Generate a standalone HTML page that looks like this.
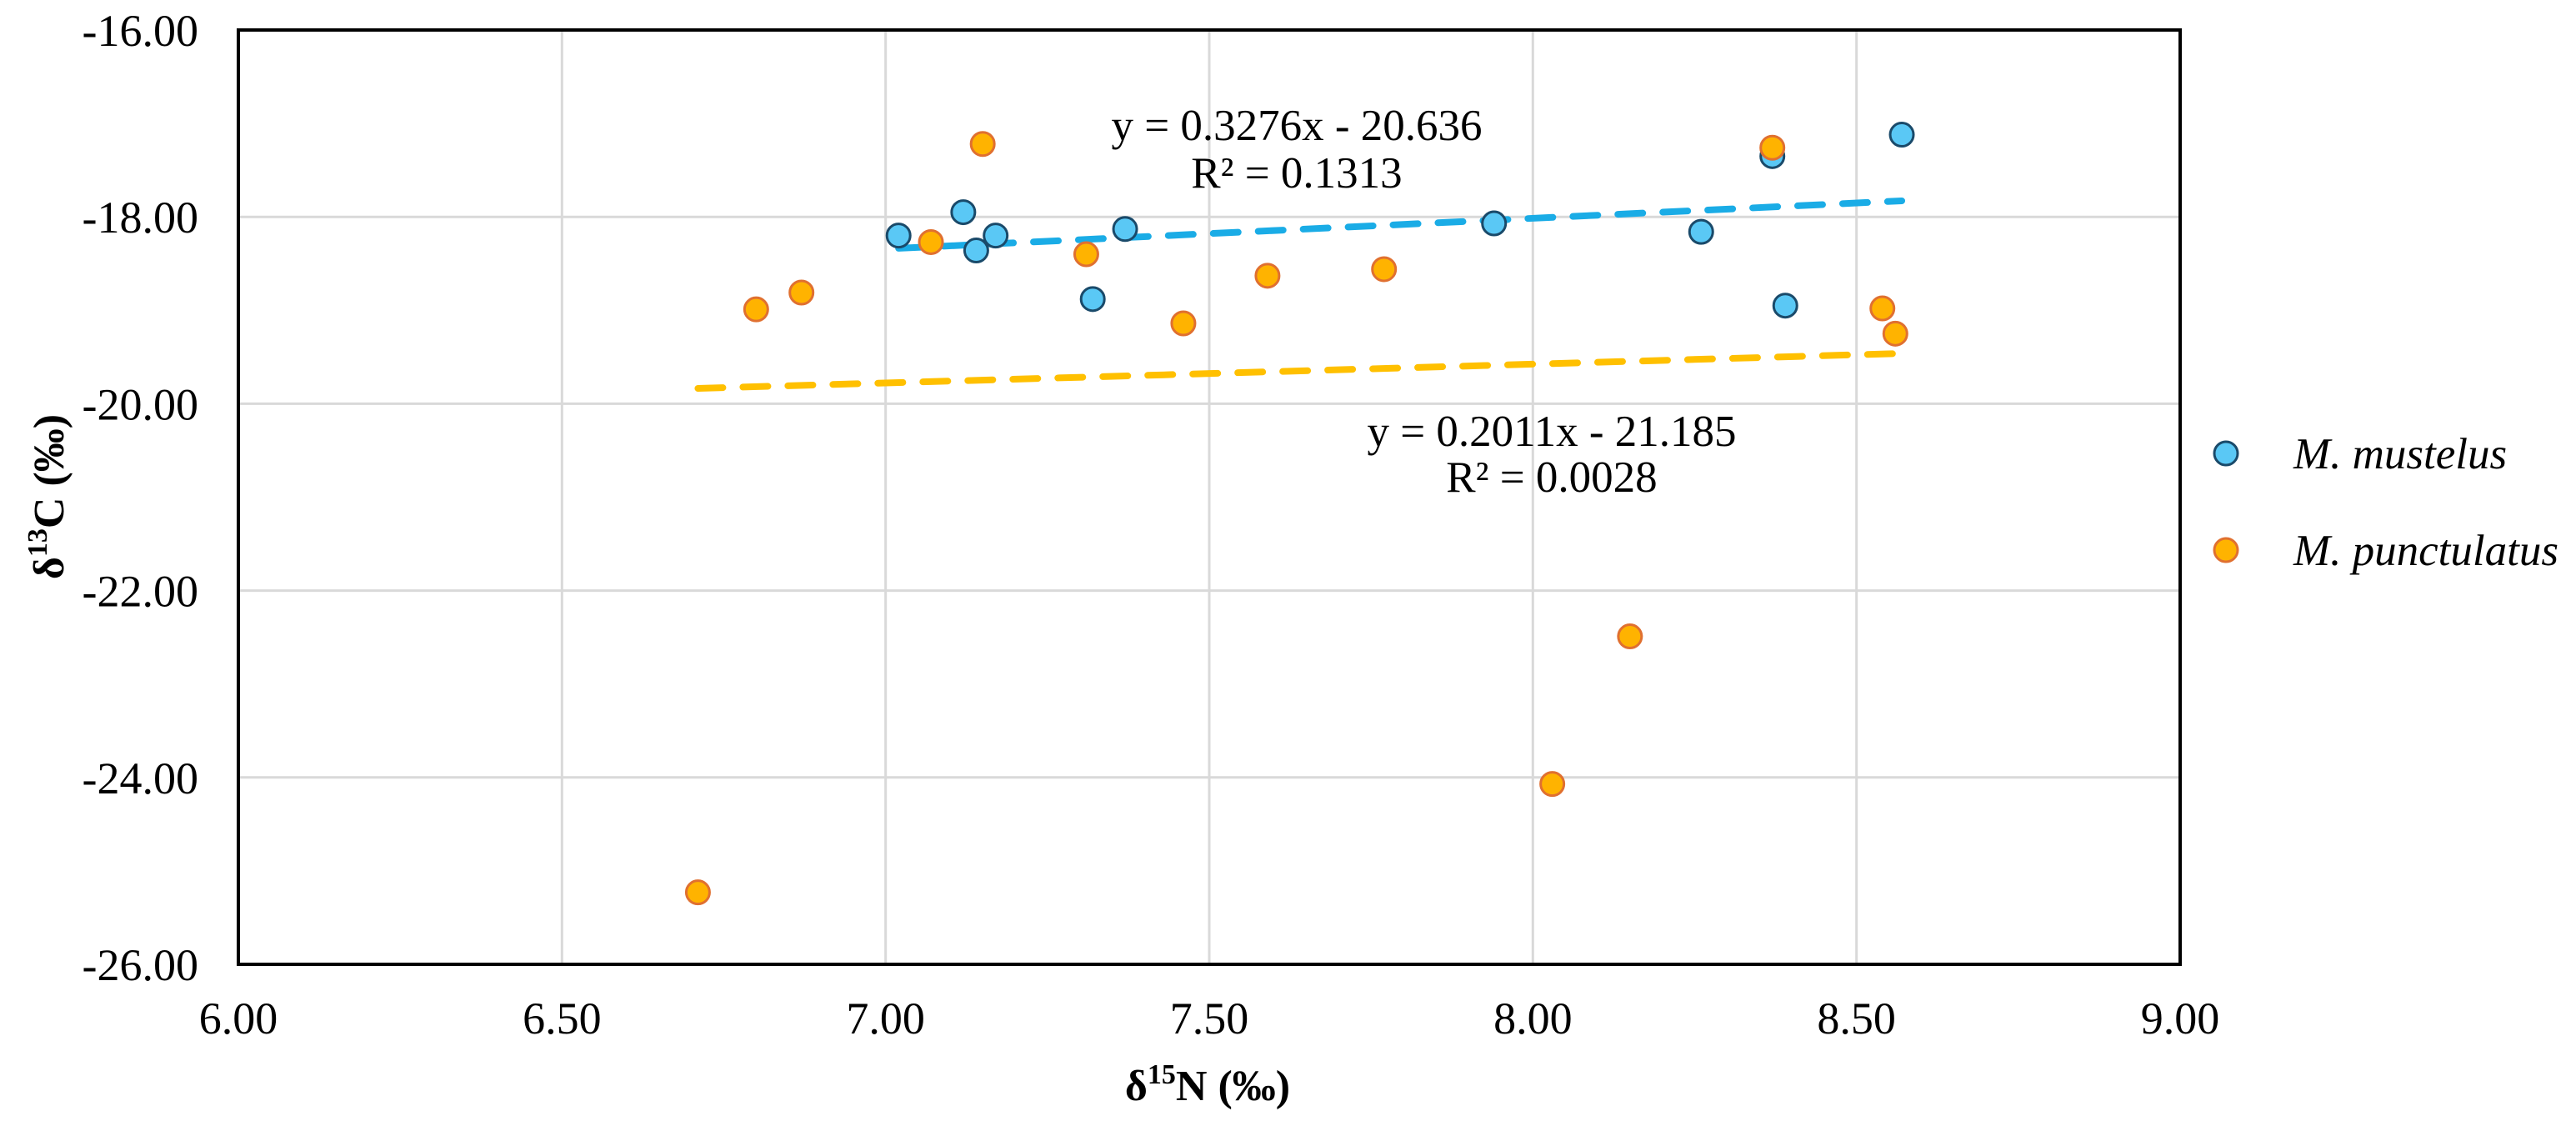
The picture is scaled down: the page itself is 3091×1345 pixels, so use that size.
<!DOCTYPE html>
<html><head><meta charset="utf-8"><style>
html,body{margin:0;padding:0;background:#fff;}
svg{display:block;}
text{font-family:"Liberation Serif",serif;fill:#000;}
</style></head><body>
<svg id="chart" width="3091" height="1345" viewBox="0 0 3091 1345" xmlns="http://www.w3.org/2000/svg">
<g id="grid"></g>
<g id="trends"></g>
<g id="points"></g>
<rect x="286" y="36" width="2330" height="1121" fill="none" stroke="#000" stroke-width="4"/>
<g id="xticks"></g>
<g id="yticks"></g>
<text x="1449" y="1320" font-size="52" font-weight="bold" text-anchor="middle">δ<tspan font-size="34" dy="-20">15</tspan><tspan dy="20">N (‰)</tspan></text>
<text transform="translate(76,596) rotate(-90)" font-size="52" font-weight="bold" text-anchor="middle">δ<tspan font-size="34" dy="-20">13</tspan><tspan dy="20">C (‰)</tspan></text>
<text x="1556" y="168" font-size="53" text-anchor="middle">y = 0.3276x - 20.636</text>
<text x="1556" y="225" font-size="53" text-anchor="middle">R² = 0.1313</text>
<text x="1862" y="535" font-size="53" text-anchor="middle">y = 0.2011x - 21.185</text>
<text x="1862" y="590" font-size="53" text-anchor="middle">R² = 0.0028</text>
<g>
<circle cx="2671" cy="544" r="14" fill="#5ac8f5" stroke="#1a4a6a" stroke-width="3"/>
<text x="2752" y="562" font-size="53" font-style="italic">M. mustelus</text>
<circle cx="2671" cy="660" r="14" fill="#ffb300" stroke="#e07030" stroke-width="3"/>
<text x="2752" y="678" font-size="53" font-style="italic">M. punctulatus</text>
</g>
</svg>
<script>
const xTicks=[6.0,6.5,7.0,7.5,8.0,8.5,9.0];
const yTicks=[-16,-18,-20,-22,-24,-26];
const mustX=[7.02,7.12,7.14,7.17,7.32,7.37,7.94,8.26,8.37,8.39,8.57];
const mustY=[-18.20,-17.95,-18.36,-18.20,-18.88,-18.13,-18.07,-18.16,-17.35,-18.95,-17.12];
const puncX=[6.71,6.80,6.87,7.07,7.15,7.31,7.46,7.59,7.77,8.03,8.15,8.37,8.54,8.56];
const puncY=[-25.23,-18.99,-18.81,-18.27,-17.22,-18.40,-19.14,-18.63,-18.56,-24.07,-22.49,-17.26,-18.98,-19.25];
const mustFit=[0.3276,-20.636];
const puncFit=[0.2011,-21.185];
const X0=286,X1=2616,Y0=36,Y1=1157;
const sx=v=>X0+(v-6)/3*(X1-X0);
const sy=v=>Y0+(-16-v)/10*(Y1-Y0);
const NS='http://www.w3.org/2000/svg';
function mk(tag,attrs,parent){const e=document.createElementNS(NS,tag);for(const k in attrs)e.setAttribute(k,attrs[k]);parent.appendChild(e);return e;}
const grid=document.getElementById('grid'),xt=document.getElementById('xticks'),yt=document.getElementById('yticks');
xTicks.forEach(t=>{
  const l=mk('line',{x1:sx(t),x2:sx(t),y1:Y0,y2:Y1,stroke:'#d9d9d9','stroke-width':3},grid);
  
  
  const tx=mk('text',{x:sx(t),y:1240,'font-size':54,'text-anchor':'middle'},xt);
  tx.textContent=t.toFixed(2);
  
  
});
yTicks.forEach(t=>{
  const l=mk('line',{x1:X0,x2:X1,y1:sy(t),y2:sy(t),stroke:'#d9d9d9','stroke-width':3},grid);
  
  
  const tx=mk('text',{x:238,y:sy(t)+19,'font-size':54,'text-anchor':'end'},yt);
  tx.textContent=t.toFixed(2);
  
  
});
const tr=document.getElementById('trends');
function trend(xs,fit,color,name){
  const a=Math.min(...xs),b=Math.max(...xs);
  const l=mk('line',{x1:sx(a),y1:sy(fit[0]*a+fit[1]),x2:sx(b),y2:sy(fit[0]*b+fit[1]),stroke:color,'stroke-width':8,'stroke-dasharray':'30 24','stroke-linecap':'round'},tr);
  
  
}
trend(puncX,puncFit,'#ffc000','punctulatus-trendline');
trend(mustX,mustFit,'#1aace6','mustelus-trendline');
const pts=document.getElementById('points');
mustX.forEach((v,i)=>{
  const c=mk('circle',{cx:sx(v),cy:sy(mustY[i]),r:14,fill:'#5ac8f5',stroke:'#1a4a6a','stroke-width':3},pts);
  
  
});
puncX.forEach((v,i)=>{
  const c=mk('circle',{cx:sx(v),cy:sy(puncY[i]),r:14,fill:'#ffb300',stroke:'#e07030','stroke-width':3},pts);
  
  
});
</script>
</body></html>
